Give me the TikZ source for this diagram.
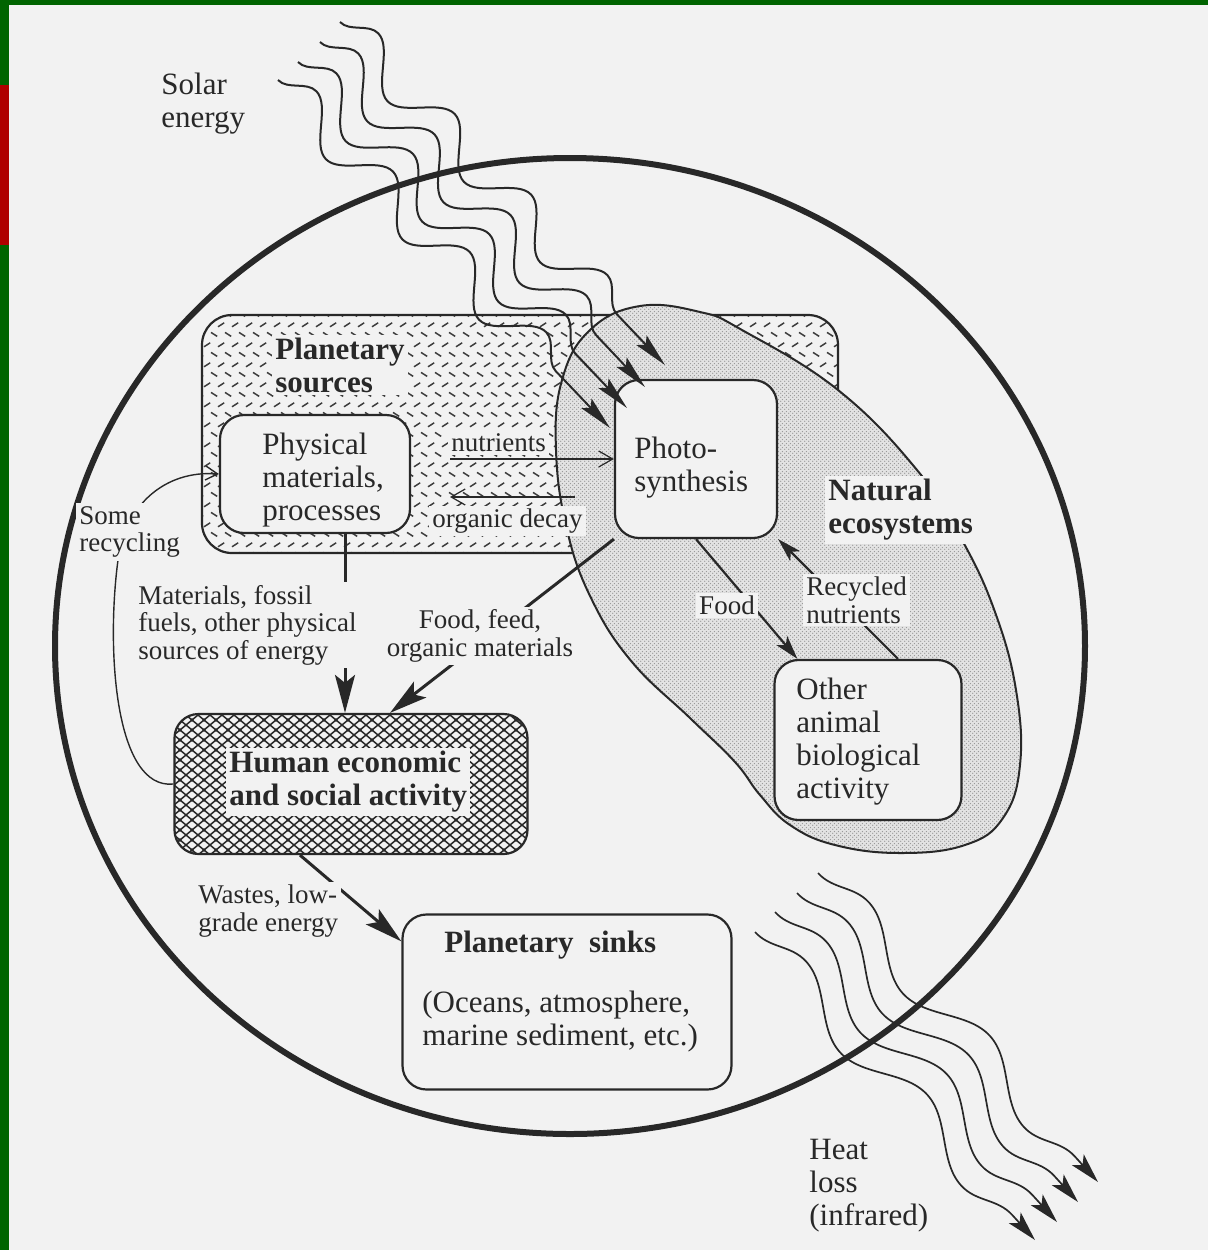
\documentclass[tikz,border=0pt]{standalone}
\usepackage{fontspec}
\setmainfont{Liberation Serif}
\usetikzlibrary{arrows.meta,calc,positioning,patterns,decorations.pathmorphing}
\definecolor{paper}{RGB}{242,242,242}
\definecolor{ink}{RGB}{40,40,40}
\definecolor{slidegreen}{RGB}{0,100,0}
\definecolor{slidered}{RGB}{175,0,0}
\newcommand{\labfont}{\fontsize{15.5}{16.5}\selectfont}
\newcommand{\notefont}{\fontsize{13.5}{13.8}\selectfont}
% fills
\pgfdeclarepatternformonly{herring}{\pgfqpoint{-1pt}{-1pt}}{\pgfqpoint{8pt}{11pt}}{\pgfqpoint{7pt}{10pt}}{%
  \pgfsetlinewidth{0.75pt}%
  \pgfpathmoveto{\pgfqpoint{0.5pt}{8.8pt}}\pgfpathlineto{\pgfqpoint{3.6pt}{6.8pt}}%
  \pgfpathmoveto{\pgfqpoint{4pt}{1.6pt}}\pgfpathlineto{\pgfqpoint{7.1pt}{3.6pt}}%
  \pgfusepath{stroke}}
\pgfdeclarepatternformonly{diamonds}{\pgfqpoint{-1pt}{-1pt}}{\pgfqpoint{7pt}{6pt}}{\pgfqpoint{6pt}{5pt}}{%
  \pgfsetlinewidth{0.75pt}%
  \pgfpathmoveto{\pgfqpoint{-0.6pt}{-0.5pt}}\pgfpathlineto{\pgfqpoint{6.6pt}{5.5pt}}%
  \pgfpathmoveto{\pgfqpoint{-0.6pt}{5.5pt}}\pgfpathlineto{\pgfqpoint{6.6pt}{-0.5pt}}%
  \pgfusepath{stroke}}
\pgfdeclarepatternformonly{stipple}{\pgfqpoint{0pt}{0pt}}{\pgfqpoint{2pt}{2pt}}{\pgfqpoint{2pt}{2pt}}{%
  \pgfpathcircle{\pgfqpoint{0.5pt}{0.5pt}}{0.4pt}%
  \pgfpathcircle{\pgfqpoint{1.5pt}{1.5pt}}{0.4pt}%
  \pgfusepath{fill}}

\begin{document}
\begin{tikzpicture}[x=0.5pt,y=-0.5pt,
    box/.style={draw=ink,line width=1.1pt,rounded corners=12pt,fill=paper,inner sep=0pt},
    txt/.style={text=ink,inner sep=0pt,align=left,font=\labfont},
    note/.style={text=ink,inner sep=1.5pt,align=left,font=\notefont,fill=paper},
    head/.style={text=ink,inner sep=1.5pt,align=left,font=\labfont\bfseries,fill=paper},
    bigarr/.style={draw=ink,line width=1.5pt,-{Stealth[length=19pt,width=10pt,inset=4pt]}},
    medarr/.style={draw=ink,line width=1.1pt,-{Stealth[length=12pt,width=7pt,inset=3pt]}},
    thinarr/.style={draw=ink,line width=.6pt,-{Straight Barb[length=7pt,width=8pt]}},
    solar/.style={draw=ink,line width=1pt,-{Stealth[length=17pt,width=7pt,inset=3pt]},
      decorate,decoration={snake,segment length=55.5pt,amplitude=10pt,post length=16pt}},
    heat/.style={draw=ink,line width=.85pt,-{Stealth[length=15pt,width=8pt,inset=3.5pt]},
      decorate,decoration={snake,segment length=90pt,amplitude=9pt,post length=14pt}}]
  \useasboundingbox (0,0) rectangle (1208,1250);
  % page
  \fill[paper] (0,0) rectangle (1208,1250);
  \fill[slidegreen] (0,0) rectangle (1208,5);
  \fill[slidegreen] (0,0) rectangle (9,1250);
  \fill[slidered] (0,85) rectangle (9,245);
  % globe
  \draw[ink,line width=3pt] (570,646) ellipse [x radius=515, y radius=488];
  % planetary sources
  \draw[ink,line width=1.1pt,rounded corners=15pt,pattern=herring,pattern color=ink!90]
    (202,315) rectangle (838,553);
  % natural ecosystems
  \draw[ink,line width=1pt,preaction={fill=gray!22},pattern=stipple,pattern color=gray!85]
    plot[smooth cycle,tension=.7] coordinates {(640,306) (700,312) (742,330) (838,390)
    (917,470) (962,540) (995,612) (1016,690) (1020,765) (1003,818) (965,845) (900,853)
    (835,845) (790,825) (760,795) (735,762) (690,718) (632,662) (592,600) (567,530)
    (556,450) (562,380) (590,330)};
  % boxes
  \node[box,minimum width=95pt,minimum height=59pt] (phys) at (315,474) {};
  \node[box,minimum width=81pt,minimum height=79pt] (photo) at (696,459) {};
  \node[box,minimum width=93.5pt,minimum height=80pt] (other) at (868,740) {};
  \node[box,fill=none,pattern=diamonds,pattern color=ink,minimum width=176.5pt,minimum height=70pt] (human) at (351,784) {};
  \node[box,minimum width=164.5pt,minimum height=87.5pt] (sinks) at (567,1002) {};
  % flows
  \coordinate (nutr0) at (450,459);
  \coordinate (decay0) at (575,497);
  \coordinate (decay1) at (450,497);
  \draw[thinarr] (nutr0) -- (photo.west);
  \draw[thinarr] (decay0) -- (decay1);
  \draw[bigarr] ([xshift=15pt]phys.south) -- ([xshift=-3pt]human.north);
  \draw[bigarr] (photo.south west) -- ([xshift=19.5pt]human.north);
  \draw[medarr] (photo.south) -- ([xshift=12pt]other.north west);
  \draw[medarr] ([xshift=15pt]other.north) -- (photo.south east);
  \draw[bigarr] ([xshift=-25.5pt]human.south) -- ([yshift=-14pt]sinks.north west);
  \draw[ink,line width=.7pt,-{Straight Barb[length=6pt,width=7pt]}] (human.west)
    .. controls (115,790) and (106,650) .. (118,560)
    .. controls (125,505) and (165,470) .. (phys.west);
  % labels
  \node[txt,anchor=west] (solarlbl) at (161,104) {Solar\\energy};
  \node[head,anchor=west] (psrclbl) at (272,365) {Planetary\\sources};
  \node[txt,anchor=west] (physlbl) at (262,480) {Physical\\materials,\\processes};
  \node[note,anchor=west] (nutrlbl) at (448,443) {nutrients};
  \node[note,anchor=west] (decaylbl) at (429,521) {organic decay};
  \node[txt,anchor=west] (photolbl) at (634,468) {Photo-\\synthesis};
  \node[head,anchor=west] (natlbl) at (825,510) {Natural\\ecosystems};
  \node[note,anchor=west] (somelbl) at (76,532) {Some\\recycling};
  \node[note,anchor=west] (matlbl) at (135,625) {Materials, fossil\\fuels, other physical\\sources of energy};
  \node[note,align=center] (feedlbl) at (480,636) {Food, feed,\\organic materials};
  \node[note] (foodlbl) at (727,605) {Food};
  \node[note,anchor=west] (reclbl) at (803,600) {Recycled\\nutrients};
  \node[txt,anchor=west] (otherlbl) at (796,742) {Other\\animal\\biological\\activity};
  \node[head,anchor=west] (humanlbl) at (226,782) {Human economic\\and social activity};
  \node[note,anchor=west] (wastelbl) at (195,911) {Wastes, low-\\grade energy};
  \node[txt,anchor=west,font=\labfont\bfseries] (sinkslbl) at (444,945) {Planetary\ \ sinks};
  \node[txt,anchor=west] (oceanlbl) at (422,1022) {(Oceans, atmosphere,\\marine sediment, etc.)};
  \node[txt,anchor=west] (heatlbl) at (809,1186) {Heat\\loss\\(infrared)};
  % solar energy in
  \draw[solar] (340,22) -- (665,365);
  \draw[solar] (320,42) -- (645,387);
  \draw[solar] (298,62) -- (627,408);
  \draw[solar] (278,80) -- (610,428);
  % heat loss out
  \draw[heat] (818,873) -- (1098,1182);
  \draw[heat] (797,893) -- (1078,1202);
  \draw[heat] (775,912) -- (1057,1222);
  \draw[heat] (755,932) -- (1035,1240);
\end{tikzpicture}
\end{document}
